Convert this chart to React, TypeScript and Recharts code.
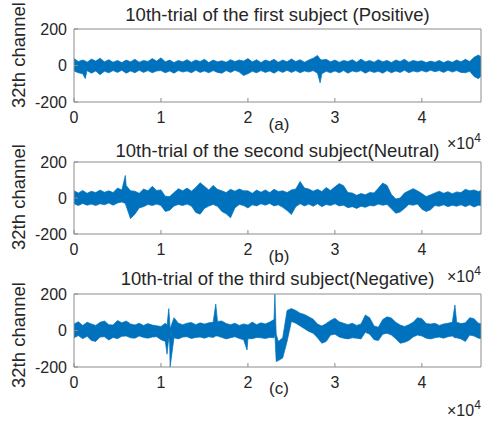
import React from 'react';
import { AreaChart, Area, XAxis, YAxis, ReferenceArea } from 'recharts';

// sample index spacing between the envelope readings below
const SAMPLE_STEP = 500;
const X_MAX = 46800;
const X_TICKS = [0, 10000, 20000, 30000, 40000];
const Y_TICKS = [-200, 0, 200];

const TITLES = [
  '10th-trial of the first subject (Positive)',
  '10th-trial of the second subject(Neutral)',
  '10th-trial of the third subject(Negative)',
];
const PANEL_TAGS = ['(a)', '(b)', '(c)'];
const Y_LABEL = '32th channel';

// upper / lower envelope of the EEG trace (uV)
const P1_HI = [
  38, 22, 30, 18, 35, 24, 40, 20, 32, 18,
  28, 16, 30, 20, 34, 18, 28, 22, 38, 24,
  42, 20, 30, 16, 28, 20, 32, 18, 30, 22,
  34, 16, 30, 20, 26, 18, 32, 22, 30, 24,
  38, 20, 32, 16, 30, 22, 34, 18, 30, 20,
  36, 22, 32, 18, 30, 40, 55, 30, 34, 20,
  30, 18, 28, 22, 32, 18, 35, 20, 28, 18,
  32, 20, 28, 16, 30, 22, 34, 18, 28, 22,
  26, 16, 24, 18, 28, 16, 26, 18, 30, 20,
  34, 22, 45, 58, 40,
];
const P1_LO = [
  -30, -40, -45, -28, -42, -30, -50, -32, -40, -28,
  -38, -26, -42, -30, -40, -26, -38, -28, -40, -30,
  -28, -40, -30, -42, -28, -36, -30, -40, -26, -38,
  -30, -40, -28, -38, -42, -28, -38, -26, -36, -55,
  -45, -32, -40, -28, -38, -30, -42, -28, -38, -26,
  -38, -28, -40, -30, -36, -28, -42, -45, -32, -40,
  -30, -40, -28, -42, -30, -36, -28, -42, -30, -38,
  -32, -42, -28, -40, -30, -38, -26, -40, -30, -36,
  -28, -36, -26, -34, -28, -38, -26, -36, -28, -38,
  -40, -32, -60, -72, -50,
];
// narrow excursions: [sample, low, high]
const P1_SPIKES = [
  [1300, -72, 25],
  [28300, -95, 35],
];

const P2_HI = [
  40, 28, 42, 26, 38, 30, 44, 32, 40, 30,
  55, 45, 70, 40, 38, 26, 50, 40, 65, 42,
  45, 10, 8, 30, 52, 40, 55, 38, 58, 85,
  65, 45, 70, 48, 40, 30, 48, 38, 50, 40,
  40, 26, 44, 32, 45, 30, 48, 36, 40, 30,
  45, 50, 92, 55, 50, 38, 48, 36, 58, 42,
  62, 80, 68, 30, 28, 15, 25, 18, 30, 28,
  55, 83, 70, 20, -5, 0, 28, 40, 52, 40,
  25, 8, 18, 28, 38, 26, 35, 24, 34, 30,
  48, 40, 45, 36, 45,
];
const P2_LO = [
  -32, -42, -30, -40, -34, -42, -32, -38, -28, -40,
  -28, -22, -45, -115, -90, -55, -48, -36, -42, -34,
  -42, -75, -68, -45, -36, -42, -34, -45, -80, -90,
  -58, -45, -36, -46, -75, -88, -110, -55, -36, -42,
  -55, -38, -44, -32, -40, -30, -44, -38, -52, -70,
  -92, -48, -32, -44, -34, -46, -32, -48, -36, -42,
  -32, -44, -40, -54, -48, -58, -46, -52, -42, -44,
  -34, -40, -36, -60, -85, -78, -58, -36, -40, -34,
  -62, -75, -65, -42, -46, -38, -48, -40, -46, -38,
  -48, -38, -50, -40, -42,
];
const P2_SPIKES = [
  [5900, -30, 125],
];

const P3_HI = [
  35, 48, 28, 45, 36, 28, 45, 52, 32, 30,
  55, 42, 52, 36, 30, 40, 28, 38, 30, 26,
  22, 40, 50, 70, 40, 32, 40, 44, 32, 42,
  35, 42, 45, 50, 52, 38, 32, 40, 28, 36,
  30, 46, 32, 42, 36, 46, 60, -60, -40, 110,
  120, 110, 95, 88, 75, 62, 35, 25, 38, 55,
  67, 48, 40, 32, 40, 28, 36, 85, 70, 25,
  18, 60, 75, 68, 45, 30, 22, 32, 45, 70,
  65, 38, 35, 40, 28, 36, 40, 45, 45, 38,
  42, 70, 65, 40, 35,
];
const P3_LO = [
  -40, -28, -45, -32, -55, -60, -36, -34, -52, -38,
  -45, -32, -30, -40, -42, -30, -38, -42, -36, -34,
  -50, -60, -70, -40, -46, -36, -34, -44, -38, -36,
  -42, -34, -38, -30, -38, -46, -40, -34, -44, -50,
  -45, -45, -38, -40, -44, -38, -40, -165, -150, -60,
  50, 40, 25, 10, -5, -15, -40, -70, -60, -25,
  -20, -36, -42, -46, -40, -42, -46, -10, -20, -50,
  -55, -20, -15, -25, -45, -70, -65, -55, -35, -25,
  -30, -42, -46, -40, -36, -42, -34, -30, -40, -46,
  -60, -25, -30, -42, -45,
];
const P3_SPIKES = [
  [10700, -130, 30],
  [10900, -40, 120],
  [11050, -200, 10],
  [16300, -30, 145],
  [19900, -107, 32],
  [23100, -20, 200],
  [23250, -170, -20],
  [43800, -40, 140],
];

const BLUE = '#0072BD';
const AXIS = '#8c8c8c';
const TEXT = '#262626';
const FONT = '"Liberation Sans", Arial, Helvetica, sans-serif';

const toRows = (hi: number[], lo: number[], spikes: number[][]) =>
  hi
    .map((h, i) => ({ t: i * SAMPLE_STEP, range: [lo[i], h] }))
    .concat(spikes.map(([t, l, h]) => ({ t, range: [l, h] })))
    .sort((a, b) => a.t - b.t);

const BottomTick = (props: any) => {
  const { x, y, payload } = props;
  const base = y - 10;
  return (
    <g>
      <line x1={x} y1={base} x2={x} y2={base - 4} stroke={AXIS} />
      <text x={x} y={y} dy="0.71em" textAnchor="middle" fontSize={16} fill={TEXT} fontFamily={FONT}>
        {payload.value / 10000}
      </text>
    </g>
  );
};

const TopTick = (props: any) => {
  const { x, y } = props;
  return <line x1={x} y1={y} x2={x} y2={y + 4} stroke={AXIS} />;
};

const LeftTick = (props: any) => {
  const { x, y, payload } = props;
  return (
    <g>
      <line x1={x + 7} y1={y} x2={x + 11} y2={y} stroke={AXIS} />
      <text x={x} y={y} dy="0.36em" textAnchor="end" fontSize={16} fill={TEXT} fontFamily={FONT}>
        {payload.value}
      </text>
    </g>
  );
};

function Panel({ data, top, height }: { data: any[]; top: number; height: number }) {
  return (
    <div style={{ position: 'absolute', left: 0, top, width: 483, height }}>
      <AreaChart width={483} height={height} data={data} margin={{ top: 29, right: 2, bottom: 0, left: 34 }}>
        <XAxis
          dataKey="t"
          type="number"
          domain={[0, X_MAX]}
          ticks={X_TICKS}
          allowDataOverflow
          axisLine={false}
          tickSize={0}
          tickMargin={10}
          height={28}
          tick={BottomTick}
          interval={0}
        />
        <XAxis
          xAxisId="top"
          orientation="top"
          dataKey="t"
          type="number"
          domain={[0, X_MAX]}
          ticks={X_TICKS}
          allowDataOverflow
          axisLine={false}
          tickSize={0}
          tickMargin={0}
          height={0}
          tick={TopTick}
          interval={0}
        />
        <YAxis
          type="number"
          domain={[-200, 200]}
          ticks={Y_TICKS}
          allowDataOverflow
          axisLine={false}
          tickSize={0}
          tickMargin={7}
          width={40}
          tick={LeftTick}
          interval={0}
        />
        <Area
          type="linear"
          dataKey="range"
          stroke={BLUE}
          strokeWidth={0.7}
          fill={BLUE}
          fillOpacity={1}
          dot={false}
          activeDot={false}
          isAnimationActive={false}
        />
        <ReferenceArea x1={0} x2={X_MAX} y1={-200} y2={200} fill="none" stroke={AXIS} strokeWidth={1} />
      </AreaChart>
    </div>
  );
}

const PANELS = [
  { data: toRows(P1_HI, P1_LO, P1_SPIKES), top: 0, height: 130 },
  { data: toRows(P2_HI, P2_LO, P2_SPIKES), top: 133, height: 129 },
  { data: toRows(P3_HI, P3_LO, P3_SPIKES), top: 265, height: 130 },
];

const TITLE_BASE = [21, 157, 285];
const TAG_BASE = [130, 262, 394];
const YLABEL_CENTER = [55, 197, 335];
const EXP_BASE = [149, 282, 416];

export default function App() {
  return (
    <div style={{ position: 'absolute', left: 0, top: 0, width: 483, height: 421, background: '#fff', fontFamily: FONT }}>
      {PANELS.map((p, i) => (
        <Panel key={i} data={p.data} top={p.top} height={p.height} />
      ))}
      <svg width={483} height={421} style={{ position: 'absolute', left: 0, top: 0, pointerEvents: 'none' }}>
        {TITLES.map((t, i) => (
          <text key={'t' + i} x={277.5} y={TITLE_BASE[i]} textAnchor="middle" fontSize={18.5} fill={TEXT} fontFamily={FONT}>
            {t}
          </text>
        ))}
        {PANEL_TAGS.map((t, i) => (
          <text key={'p' + i} x={279} y={TAG_BASE[i]} textAnchor="middle" fontSize={17} fill={TEXT} fontFamily={FONT}>
            {t}
          </text>
        ))}
        {YLABEL_CENTER.map((c, i) => (
          <text
            key={'y' + i}
            x={0}
            y={0}
            transform={`translate(25, ${c}) rotate(-90)`}
            textAnchor="middle"
            fontSize={18.5}
            fill={TEXT}
            fontFamily={FONT}
          >
            {Y_LABEL}
          </text>
        ))}
        {EXP_BASE.map((b, i) => (
          <text key={'e' + i} x={447} y={b} fontSize={16} fill={TEXT} fontFamily={FONT}>
            ×10<tspan dy={-7} fontSize={12}>4</tspan>
          </text>
        ))}
      </svg>
    </div>
  );
}
